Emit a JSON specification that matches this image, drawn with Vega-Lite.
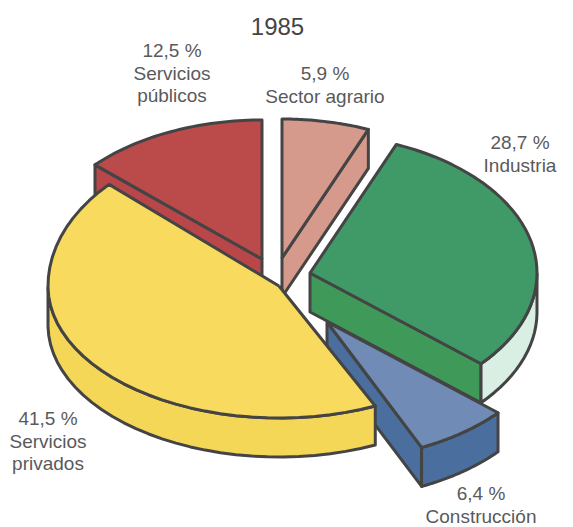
{
"$schema":"https://vega.github.io/schema/vega-lite/v6.json",
"width":573,"height":527,"padding":0,"autosize":{"type":"none"},
"background":"white",
"config":{"view":{"stroke":null}},
"title":{"text":"1985","font":"Liberation Sans","fontSize":24,"fontWeight":"normal","color":"#444","anchor":"middle","dx":-9,"dy":40,"offset":0},
"data":{"values":[
{"sector":"Sector agrario","pct":5.9,"label":"5,9 %\nSector agrario"},
{"sector":"Industria","pct":28.7,"label":"28,7 %\nIndustria"},
{"sector":"Construcción","pct":6.4,"label":"6,4 %\nConstrucción"},
{"sector":"Servicios privados","pct":41.5,"label":"41,5 %\nServicios\nprivados"},
{"sector":"Servicios públicos","pct":12.5,"label":"12,5 %\nServicios\npúblicos"}
]},
"transform":[
{"stack":"pct","groupby":[],"offset":"normalize","as":["s0","s1"]},
{"calculate":"datum.s0*2*PI","as":"a0"},
{"calculate":"datum.s1*2*PI","as":"a1"},
{"calculate":"{'Sector agrario':282,'Industria':310,'Construcción':327,'Servicios privados':279,'Servicios públicos':262}[datum.sector]","as":"cx"},
{"calculate":"{'Sector agrario':258,'Industria':273,'Construcción':322,'Servicios privados':286,'Servicios públicos':259}[datum.sector]","as":"cy"},
{"calculate":"datum.sector=='Servicios privados'?231:227","as":"rx"},
{"calculate":"datum.sector=='Servicios privados'?150:139","as":"ryU"},
{"calculate":"datum.sector=='Servicios privados'?132:138","as":"ryD"}
],
"layer":[
{"transform":[
{"filter":"datum.sector!='Servicios privados'"},
{"calculate":"datum.sector=='Servicios públicos'?datum.a0:datum.a1","as":"e"},
{"calculate":"[0,1]","as":"p"},{"flatten":["p"]},
{"calculate":"datum.cx+datum.p*datum.rx*sin(datum.e)","as":"x"},
{"calculate":"datum.cy-datum.p*(cos(datum.e)>0?datum.ryU:datum.ryD)*cos(datum.e)","as":"y"},
{"calculate":"datum.y+39","as":"yb"}],
"mark":{"type":"area","stroke":"#444","strokeWidth":3,"strokeJoin":"round"},
"encoding":{
"x":{"field":"x","type":"quantitative","scale":{"domain":[0,573]},"axis":null},
"y":{"field":"y","type":"quantitative","scale":{"domain":[527,0]},"axis":null},
"y2":{"field":"yb"},
"detail":{"field":"sector"},
"fill":{"field":"sector","type":"nominal","legend":null,"scale":{"domain":["Sector agrario","Industria","Construcción","Servicios públicos"],"range":["#d59a8c","#3f9a5a","#4a6f9f","#b9474a"]}}}},
{"transform":[
{"calculate":"sequence(0,41)","as":"p"},{"flatten":["p"]},
{"calculate":"datum.a0+(datum.a1-datum.a0)*datum.p/40","as":"t"},
{"filter":"cos(datum.t)<=0"},
{"calculate":"datum.cx+datum.rx*sin(datum.t)","as":"x"},
{"calculate":"datum.cy-datum.ryD*cos(datum.t)","as":"y"},
{"calculate":"datum.y+39","as":"yb"}],
"mark":{"type":"area","stroke":"#444","strokeWidth":3,"strokeJoin":"round"},
"encoding":{
"x":{"field":"x","type":"quantitative","scale":{"domain":[0,573]},"axis":null},
"y":{"field":"y","type":"quantitative","scale":{"domain":[527,0]},"axis":null},
"y2":{"field":"yb"},
"detail":{"field":"sector"},
"fill":{"field":"sector","type":"nominal","legend":null,"scale":{"domain":["Industria","Construcción","Servicios privados"],"range":["#d9efe4","#4a6f9f","#f5d757"]}}}},
{"transform":[
{"calculate":"sequence(-1,42)","as":"p"},{"flatten":["p"]},
{"calculate":"datum.a0+(datum.a1-datum.a0)*datum.p/40","as":"t"},
{"calculate":"(datum.p<0||datum.p>40)?0:1","as":"k"},
{"calculate":"datum.cx+datum.k*datum.rx*sin(datum.t)","as":"x"},
{"calculate":"datum.cy-datum.k*(cos(datum.t)>0?datum.ryU:datum.ryD)*cos(datum.t)","as":"y"}],
"mark":{"type":"line","stroke":"#444","strokeWidth":3,"strokeJoin":"round"},
"encoding":{
"x":{"field":"x","type":"quantitative","scale":{"domain":[0,573]},"axis":null},
"y":{"field":"y","type":"quantitative","scale":{"domain":[527,0]},"axis":null},
"order":{"field":"p","type":"quantitative"},
"detail":{"field":"sector"},
"fill":{"field":"sector","type":"nominal","legend":null,"scale":{"domain":["Sector agrario","Industria","Construcción","Servicios privados","Servicios públicos"],"range":["#d59a8c","#3f9a68","#6f8bb6","#f7da5e","#bb4a4a"]}}}},
{"transform":[
{"calculate":"{'Sector agrario':325,'Industria':520,'Construcción':481,'Servicios privados':48,'Servicios públicos':172}[datum.sector]","as":"lx"},
{"calculate":"{'Sector agrario':65,'Industria':134,'Construcción':485,'Servicios privados':410,'Servicios públicos':42}[datum.sector]","as":"ly"}],
"mark":{"type":"text","font":"Liberation Sans","fontSize":19,"color":"#5a5a5a","align":"center","baseline":"top","lineBreak":"\n","lineHeight":22.5},
"encoding":{
"x":{"field":"lx","type":"quantitative","scale":{"domain":[0,573]},"axis":null},
"y":{"field":"ly","type":"quantitative","scale":{"domain":[527,0]},"axis":null},
"text":{"field":"label"}}}
],
"resolve":{"scale":{"fill":"independent"}}
}
